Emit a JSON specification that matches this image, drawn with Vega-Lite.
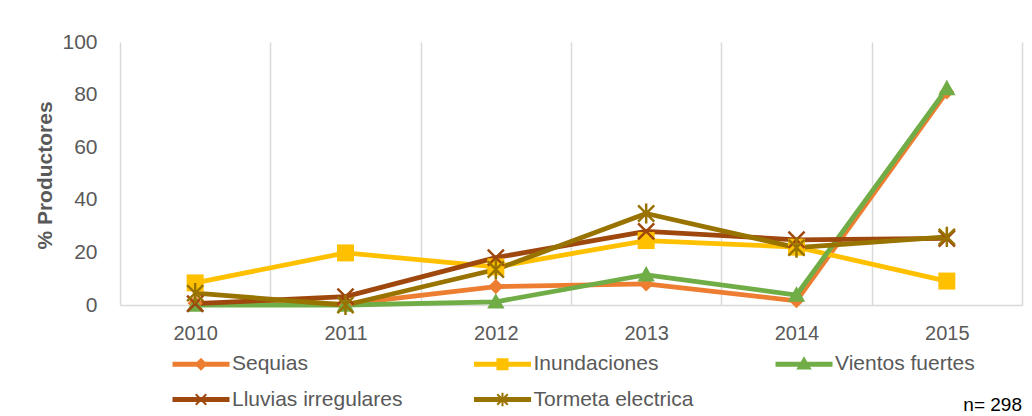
{
  "$schema": "https://vega.github.io/schema/vega-lite/v6.json",
  "width": 902,
  "height": 263,
  "autosize": "none",
  "padding": {"left": 120, "top": 42, "right": 10, "bottom": 111},
  "background": "white",
  "config": {"view": {"stroke": null}, "font": "Liberation Sans"},
  "title": {"text": "n= 298", "orient": "bottom", "anchor": "end", "offset": -15, "fontSize": 19, "font": "Liberation Sans", "fontWeight": "normal", "color": "#000000"},
  "data": {"values": [
    {"year": 2010, "serie": "Sequias", "pct": 0.7},
    {"year": 2011, "serie": "Sequias", "pct": 0.3},
    {"year": 2012, "serie": "Sequias", "pct": 7},
    {"year": 2013, "serie": "Sequias", "pct": 8},
    {"year": 2014, "serie": "Sequias", "pct": 1.6},
    {"year": 2015, "serie": "Sequias", "pct": 81},
    {"year": 2010, "serie": "Inundaciones", "pct": 8.4},
    {"year": 2011, "serie": "Inundaciones", "pct": 19.8},
    {"year": 2012, "serie": "Inundaciones", "pct": 14.5},
    {"year": 2013, "serie": "Inundaciones", "pct": 24.5},
    {"year": 2014, "serie": "Inundaciones", "pct": 22},
    {"year": 2015, "serie": "Inundaciones", "pct": 9.1},
    {"year": 2010, "serie": "Vientos fuertes", "pct": 0},
    {"year": 2011, "serie": "Vientos fuertes", "pct": 0},
    {"year": 2012, "serie": "Vientos fuertes", "pct": 1.2},
    {"year": 2013, "serie": "Vientos fuertes", "pct": 11.5},
    {"year": 2014, "serie": "Vientos fuertes", "pct": 3.8},
    {"year": 2015, "serie": "Vientos fuertes", "pct": 82.3},
    {"year": 2010, "serie": "Lluvias irregulares", "pct": 0.5},
    {"year": 2011, "serie": "Lluvias irregulares", "pct": 3.2},
    {"year": 2012, "serie": "Lluvias irregulares", "pct": 18},
    {"year": 2013, "serie": "Lluvias irregulares", "pct": 28},
    {"year": 2014, "serie": "Lluvias irregulares", "pct": 24.8},
    {"year": 2015, "serie": "Lluvias irregulares", "pct": 25.3},
    {"year": 2010, "serie": "Tormeta electrica", "pct": 4.5},
    {"year": 2011, "serie": "Tormeta electrica", "pct": 0},
    {"year": 2012, "serie": "Tormeta electrica", "pct": 13.5},
    {"year": 2013, "serie": "Tormeta electrica", "pct": 34.8},
    {"year": 2014, "serie": "Tormeta electrica", "pct": 21.8},
    {"year": 2015, "serie": "Tormeta electrica", "pct": 25.9}
  ]},
  "encoding": {
    "y": {
      "field": "pct", "type": "quantitative",
      "scale": {"domain": [0, 100]},
      "axis": {
        "values": [0, 20, 40, 60, 80, 100], "grid": false, "domain": false, "ticks": false,
        "labelPadding": 23, "labelFontSize": 21, "labelColor": "#595959", "labelFont": "Liberation Sans",
        "title": "% Productores", "titleFontSize": 21, "titleFontWeight": "bold", "titleColor": "#595959", "titleFont": "Liberation Sans",
        "titleX": -75, "titleY": 133, "titleAngle": 270, "titleAlign": "center", "titleBaseline": "middle"
      }
    },
    "color": {
      "field": "serie", "type": "nominal",
      "scale": {"domain": ["Sequias", "Inundaciones", "Vientos fuertes", "Lluvias irregulares", "Tormeta electrica"], "range": ["#ED7D31", "#FFC000", "#70AD47", "#9E480E", "#997300"]},
      "legend": {
        "orient": "none", "legendX": 70.5, "legendY": 311, "direction": "horizontal", "columns": 3, "gridAlign": "all",
        "columnPadding": 67.5, "rowPadding": 13, "padding": 0, "title": null,
        "symbolSize": 196, "symbolStrokeWidth": 2, "symbolOffset": 0, "labelOffset": 20.5,
        "labelFontSize": 21, "labelColor": "#595959", "labelFont": "Liberation Sans", "labelLimit": 400,
        "encode": {"symbols": {"update": {
          "shape": {"signal": "datum.value === 'Sequias' ? 'M-3.93,-0.22H3.93V0.22H-3.93Z M0,-0.72L0.72,0L0,0.72L-0.72,0Z' : datum.value === 'Inundaciones' ? 'M-3.93,-0.22H3.93V0.22H-3.93Z M-0.72,-0.72H0.72V0.72H-0.72Z' : datum.value === 'Vientos fuertes' ? 'M-3.93,-0.22H3.93V0.22H-3.93Z M0,-0.85L0.85,0.6H-0.85Z' : datum.value === 'Lluvias irregulares' ? 'M-3.93,-0.22H3.93V0.22H-3.93Z M-0.75,-0.75L0.75,0.75M-0.75,0.75L0.75,-0.75' : 'M-3.93,-0.22H3.93V0.22H-3.93Z M-0.75,-0.75L0.75,0.75M-0.75,0.75L0.75,-0.75M0,-0.95V0.95'"},
          "fill": {"scale": "color", "field": "value"},
          "stroke": {"scale": "color", "field": "value"},
          "strokeWidth": {"value": 2},
          "opacity": {"value": 1}
        }}}
      }
    }
  },
  "layer": [
    {
      "mark": {"type": "line", "strokeWidth": 4.8, "strokeJoin": "round", "strokeCap": "round"},
      "encoding": {
        "x": {
          "field": "year", "type": "quantitative",
          "scale": {"domain": [2009.5, 2015.5], "nice": false, "zero": false},
          "axis": {"orient": "bottom", "values": [2009.5, 2010.5, 2011.5, 2012.5, 2013.5, 2014.5, 2015.5], "grid": true, "gridColor": "#d9d9d9", "gridWidth": 1.5, "labels": false, "ticks": false, "domain": false, "title": null}
        }
      }
    },
    {
      "transform": [{"filter": "datum.serie === 'Sequias'"}],
      "mark": {"type": "point", "filled": true, "shape": "diamond", "size": 230, "opacity": 1},
      "encoding": {
        "x": {
          "field": "year", "type": "quantitative",
          "axis": {"orient": "bottom", "values": [2010, 2011, 2012, 2013, 2014, 2015], "format": "d", "grid": false, "ticks": false, "domain": true, "domainColor": "#d9d9d9", "domainWidth": 1.5, "labelPadding": 18, "labelFontSize": 20, "labelColor": "#595959", "labelFont": "Liberation Sans", "title": null}
        }
      }
    },
    {
      "transform": [{"filter": "datum.serie === 'Inundaciones'"}],
      "mark": {"type": "point", "filled": true, "shape": "square", "size": 289, "opacity": 1},
      "encoding": {"x": {"field": "year", "type": "quantitative", "axis": null}}
    },
    {
      "transform": [{"filter": "datum.serie === 'Vientos fuertes'"}],
      "mark": {"type": "point", "filled": true, "shape": "M0,-1.1L1.1,0.85L-1.1,0.85Z", "size": 250, "opacity": 1},
      "encoding": {"x": {"field": "year", "type": "quantitative", "axis": null}}
    },
    {
      "transform": [{"filter": "datum.serie === 'Lluvias irregulares'"}],
      "mark": {"type": "point", "filled": false, "shape": "M-1,-1L1,1M-1,1L1,-1", "size": 260, "strokeWidth": 2.5, "opacity": 1},
      "encoding": {"x": {"field": "year", "type": "quantitative", "axis": null}}
    },
    {
      "transform": [{"filter": "datum.serie === 'Tormeta electrica'"}],
      "mark": {"type": "point", "filled": false, "shape": "M-1,-1L1,1M-1,1L1,-1M0,-1.25V1.25", "size": 260, "strokeWidth": 2.5, "opacity": 1},
      "encoding": {"x": {"field": "year", "type": "quantitative", "axis": null}}
    }
  ],
  "resolve": {"axis": {"x": "independent"}}
}
